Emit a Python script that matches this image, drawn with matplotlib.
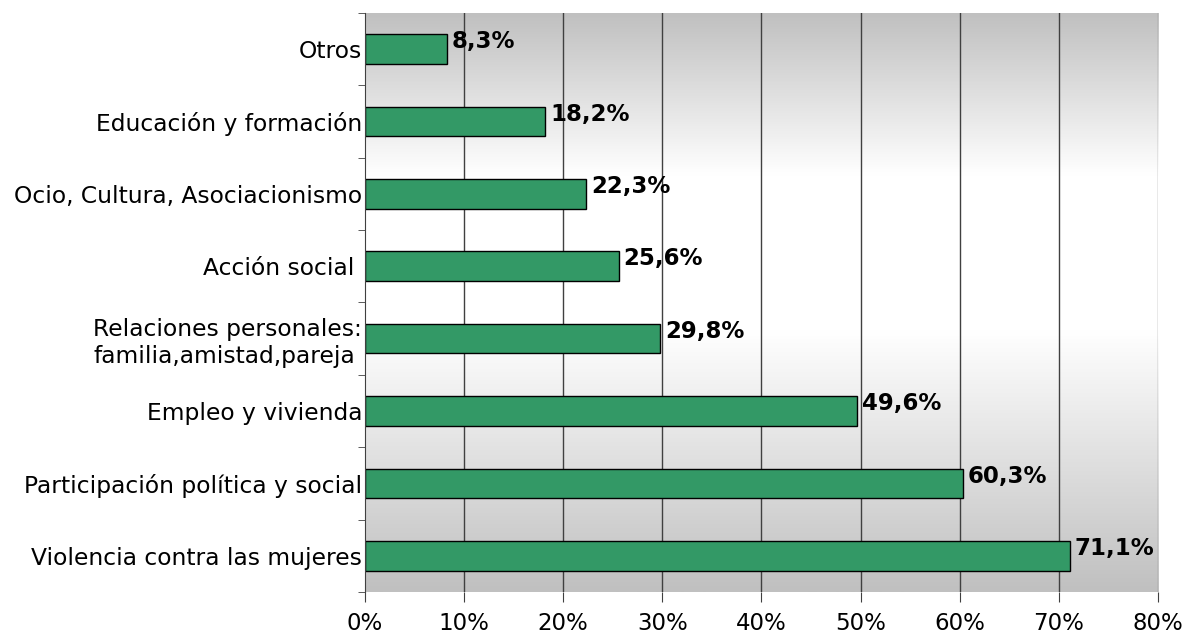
import numpy as np
import matplotlib
matplotlib.use("Agg")
import matplotlib.pyplot as plt
from matplotlib.colors import LinearSegmentedColormap

# datos (de abajo hacia arriba)
categorias = ["Violencia contra las mujeres",
              "Participación política y social",
              "Empleo y vivienda",
              "Relaciones personales:\nfamilia,amistad,pareja",
              "Acción social ",
              "Ocio, Cultura, Asociacionismo",
              "Educación y formación",
              "Otros"]
valores = [71.1, 60.3, 49.6, 29.8, 25.6, 22.3, 18.2, 8.3]
etiquetas = ["71,1%", "60,3%", "49,6%", "29,8%", "25,6%", "22,3%", "18,2%", "8,3%"]
xticks = [0, 10, 20, 30, 40, 50, 60, 70, 80]

plt.rcParams['font.family'] = ['DejaVu Sans']

fig = plt.figure(figsize=(12, 6.38), dpi=100)
ax = fig.add_axes([0.304, 0.072, 0.661, 0.908])

n = len(categorias)
ax.set_xlim(0, 80)
ax.set_ylim(-0.5, n - 0.5)

# fondo degradado gris-blanco-gris (de arriba a abajo)
t = np.linspace(0, 1, 200)
grad = np.interp(t, [0, 0.28, 0.55, 1], [0, 1, 1, 0]).reshape(-1, 1)
cmap = LinearSegmentedColormap.from_list("bg", ["#c0c0c0", "#ffffff"])
ax.imshow(grad, aspect='auto', cmap=cmap, extent=[0, 80, -0.5, n - 0.5],
          origin='upper', zorder=0)

for x in xticks[1:-1]:
    ax.axvline(x, color='#404040', lw=1.0, zorder=1)
ax.axvline(80, color='#909090', lw=1.0, zorder=1)

y = np.arange(n)
ax.barh(y, valores, height=0.41, color='#339966', edgecolor='black', lw=1.0, zorder=2)

for yi, v, t in zip(y, valores, etiquetas):
    ax.text(v + 0.5, yi + 0.1, t, fontsize=16.5, fontweight='bold', va='center',
            ha='left', zorder=3)

ax.set_yticks(y)
ax.set_yticklabels(categorias, fontsize=16.8, multialignment='left')
ax.set_yticks(np.arange(-0.5, n, 1), minor=True)
ax.tick_params(axis='y', which='major', length=0, pad=2)
ax.tick_params(axis='y', which='minor', length=5, color='#404040')

ax.set_xticks(xticks)
ax.set_xticklabels([f"{x}%" for x in xticks], fontsize=16.5)
ax.tick_params(axis='x', length=7, color='#404040', pad=7)

for s in ['top', 'right', 'bottom']:
    ax.spines[s].set_visible(False)
ax.spines['left'].set_color('#404040')

fig.savefig("out.png", dpi=100)
